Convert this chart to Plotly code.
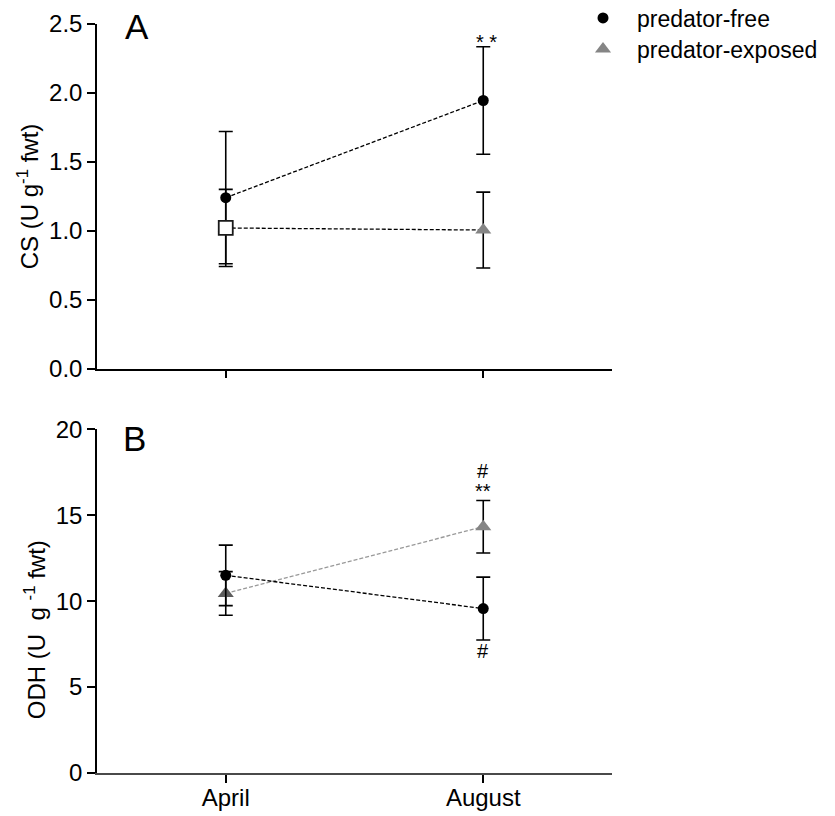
import plotly.graph_objects as go

months = ["April", "August"]

cs_free_mean = [1.24, 1.945]
cs_free_err = [0.48, 0.39]
cs_exp_mean = [1.02, 1.005]
cs_exp_err = [0.28, 0.275]

odh_free_mean = [11.5, 9.57]
odh_free_err = [1.76, 1.83]
odh_exp_mean = [10.45, 14.33]
odh_exp_err = [1.27, 1.53]

FONT = "Arial, Liberation Sans, Helvetica, sans-serif"
GRAY = "#858585"
DARKGRAY = "#5c5c5c"

fig = go.Figure()

def errs(arr):
    return dict(type="data", array=arr, visible=True, color="black", thickness=1.6, width=7)

# Panel A - predator-free
fig.add_trace(go.Scatter(
    x=months, y=cs_free_mean, error_y=errs(cs_free_err),
    mode="lines+markers", line=dict(color="black", width=1.3, dash="4px,2px"),
    marker=dict(symbol="circle", size=11, color="black"),
    xaxis="x", yaxis="y", showlegend=False))
# Panel A - predator-exposed (August triangle)
fig.add_trace(go.Scatter(
    x=months, y=cs_exp_mean, error_y=errs(cs_exp_err),
    mode="lines+markers", line=dict(color="black", width=1.3, dash="4px,2px"),
    marker=dict(symbol="triangle-up", size=14, color=GRAY),
    xaxis="x", yaxis="y", showlegend=False))
# Panel A - April baseline of exposed group drawn as open square
fig.add_trace(go.Scatter(
    x=months[:1], y=cs_exp_mean[:1], mode="markers",
    marker=dict(symbol="square", size=14, color="white",
                line=dict(color="#1a1a1a", width=1.8)),
    xaxis="x", yaxis="y", showlegend=False))

# Panel B
fig.add_trace(go.Scatter(
    x=months, y=odh_exp_mean, error_y=errs(odh_exp_err),
    mode="lines+markers", line=dict(color="#999999", width=1.3, dash="4px,2px"),
    marker=dict(symbol="triangle-up", size=14, color=[DARKGRAY, GRAY]),
    xaxis="x2", yaxis="y2", showlegend=False))
fig.add_trace(go.Scatter(
    x=months, y=odh_free_mean, error_y=errs(odh_free_err),
    mode="lines+markers", line=dict(color="black", width=1.3, dash="4px,2px"),
    marker=dict(symbol="circle", size=11, color="black"),
    xaxis="x2", yaxis="y2", showlegend=False))

# legend entries
fig.add_trace(go.Scatter(x=[None], y=[None], mode="markers", name="predator-free",
                         marker=dict(symbol="circle", size=11, color="black"),
                         xaxis="x", yaxis="y", legend="legend"))
fig.add_trace(go.Scatter(x=[None], y=[None], mode="markers", name="predator-exposed",
                         marker=dict(symbol="triangle-up", size=14, color=GRAY),
                         xaxis="x", yaxis="y", legend="legend2"))

axis_common = dict(showline=True, linecolor="black", linewidth=1.5, ticks="outside",
                   ticklen=8, tickwidth=1.5, tickcolor="black", showgrid=False,
                   zeroline=False, tickfont=dict(family=FONT, size=24, color="black"))

leg_common = dict(xanchor="left", yanchor="middle",
                  font=dict(family=FONT, size=23, color="black"),
                  bgcolor="rgba(0,0,0,0)", itemwidth=58)

fig.update_layout(
    width=835, height=816,
    margin=dict(l=97, r=223, t=24, b=43, autoexpand=False),
    paper_bgcolor="white", plot_bgcolor="white",
    font=dict(family=FONT, color="black"),
    xaxis=dict(**axis_common, domain=[0, 1], range=[-0.5, 1.5], type="category",
               showticklabels=False, anchor="y"),
    yaxis=dict(**axis_common, domain=[0.540, 1], range=[0, 2.5], dtick=0.5,
               tickformat=".1f", anchor="x"),
    xaxis2=dict(**{**axis_common, "linecolor": "#4a4a4a"}, domain=[0, 1], range=[-0.5, 1.5],
                type="category", anchor="y2", ticklabelstandoff=-6),
    yaxis2=dict(**axis_common, domain=[0, 0.4589], range=[0, 20], dtick=5, anchor="x2"),
    legend=dict(**leg_common, x=0.9165, y=1.008),
    legend2=dict(**leg_common, x=0.9165, y=0.9666),
    showlegend=True,
)

ann = [
    dict(text="CS (U g<sup>-1</sup> fwt)", xref="paper", yref="paper", x=-0.134, y=0.770,
         textangle=-90, showarrow=False, font=dict(size=24), xanchor="center", yanchor="middle"),
    dict(text="ODH (U\u00a0 g <sup>-1</sup> fwt)", xref="paper", yref="paper", x=-0.120, y=0.191,
         textangle=-90, showarrow=False, font=dict(size=24), xanchor="center", yanchor="middle"),
    dict(text="A", xref="paper", yref="paper", x=0.0777, y=0.996, showarrow=False,
         font=dict(size=35), xanchor="center", yanchor="middle"),
    dict(text="B", xref="paper", yref="paper", x=0.072, y=0.447, showarrow=False,
         font=dict(size=35), xanchor="center", yanchor="middle"),
    dict(text="* *", xref="x", yref="y", x="August", y=2.37, showarrow=False,
         font=dict(size=20), xanchor="center", yanchor="middle", xshift=3),
    dict(text="#", xref="x2", yref="y2", x="August", y=17.6, showarrow=False,
         font=dict(size=20), xanchor="center", yanchor="middle"),
    dict(text="**", xref="x2", yref="y2", x="August", y=16.4, showarrow=False,
         font=dict(size=20), xanchor="center", yanchor="middle"),
    dict(text="#", xref="x2", yref="y2", x="August", y=7.1, showarrow=False,
         font=dict(size=20), xanchor="center", yanchor="middle"),
]
fig.update_layout(annotations=ann)

fig.write_html("out.html")
